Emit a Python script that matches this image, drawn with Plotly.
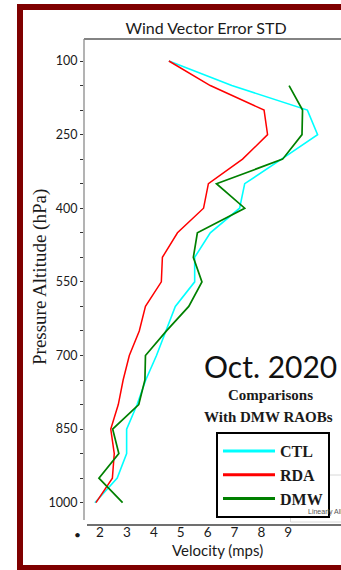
import plotly.graph_objects as go

# Pressure levels (hPa) and wind vector error standard deviations (m/s)
levels = [100, 150, 200, 250, 300, 350, 400, 450, 500, 550,
          600, 650, 700, 750, 800, 850, 900, 950, 1000]
ctl = [4.56, 6.9, 9.71, 10.09, 8.75, 7.38, 7.19, 6.1, 5.52, 5.52,
       4.8, 4.45, 4.1, 3.7, 3.38, 2.99, 2.99, 2.64, 1.81]
rda = [4.56, 6.1, 8.1, 8.23, 7.3, 6.03, 5.85, 4.88, 4.32, 4.28,
       3.69, 3.46, 3.09, 2.86, 2.68, 2.4, 2.53, 2.46, 1.85]
dmw = [None, 9.03, 9.53, 9.51, 8.79, 6.33, 7.38, 5.62, 5.47, 5.79,
       5.3, 4.47, 3.69, 3.67, 3.44, 2.47, 2.7, 1.96, 2.84]

x_ticks = [2, 3, 4, 5, 6, 7, 8, 9]
y_ticks = [100, 250, 400, 550, 700, 850, 1000]

series = [
    ("CTL", ctl, "#00FFFF", 1.6),
    ("RDA", rda, "#FF0000", 1.5),
    ("DMW", dmw, "#008000", 1.7),
]

W, H = 341, 570
L, R, T, B = 84, 0, 39, 49
PW, PH = W - L - R, H - T - B


def px(xp):
    return (xp - L) / PW


def py(yp):
    return (H - B - yp) / PH


fig = go.Figure()
for name, vals, color, width in series:
    fig.add_trace(go.Scatter(
        x=vals, y=levels, mode="lines", name=name,
        line=dict(color=color, width=width),
        showlegend=False, connectgaps=False,
    ))
# legend entries with heavier sample lines
for name, vals, color, width in series:
    fig.add_trace(go.Scatter(
        x=[None], y=[None], mode="lines", name=name,
        line=dict(color=color, width=3), showlegend=True,
    ))

maroon = "#7F0000"
axis_gray = "#5A5A5A"
shapes = [
    # outer frame
    dict(type="rect", xref="paper", yref="paper",
         x0=px(17), x1=px(23), y0=py(570), y1=py(4),
         fillcolor=maroon, line=dict(width=0), layer="above"),
    dict(type="rect", xref="paper", yref="paper",
         x0=px(17), x1=px(345), y0=py(10), y1=py(4),
         fillcolor=maroon, line=dict(width=0), layer="above"),
    dict(type="rect", xref="paper", yref="paper",
         x0=px(17), x1=px(345), y0=py(571), y1=py(565),
         fillcolor=maroon, line=dict(width=0), layer="above"),
    # plot frame lines
    dict(type="line", xref="paper", yref="paper",
         x0=0, x1=1.01, y0=py(39), y1=py(39),
         line=dict(color=axis_gray, width=1.5)),
    dict(type="line", xref="paper", yref="paper",
         x0=0, x1=0, y0=py(39), y1=py(520),
         line=dict(color="#8A8A8A", width=1.3)),
    dict(type="line", xref="paper", yref="paper",
         x0=px(87), x1=1.01, y0=py(525), y1=py(525),
         line=dict(color="#404040", width=1.6)),
    # faint box behind the legend
    dict(type="rect", xref="paper", yref="paper",
         x0=px(290.5), x1=px(345), y0=py(522), y1=py(475),
         fillcolor="white", line=dict(color="#D8D8D8", width=1), layer="below"),
    dict(type="line", xref="paper", yref="paper",
         x0=px(293), x1=px(304), y0=py(512), y1=py(512),
         line=dict(color="#F4B0B0", width=1)),
]

annotations = [
    dict(text="Pressure Altitude (hPa)", xref="paper", yref="paper",
         x=px(40), y=py(277), textangle=-90, showarrow=False,
         xanchor="center", yanchor="middle",
         font=dict(family="Liberation Serif", size=19, color="#1a1a1a")),
    dict(text="Velocity (mps)", xref="paper", yref="paper",
         x=px(217), y=py(550), showarrow=False,
         xanchor="center", yanchor="middle",
         font=dict(family="Lato", size=15, color="#1a1a1a")),
    dict(text="\u2022", xref="paper", yref="paper",
         x=px(77), y=py(534), showarrow=False,
         xanchor="center", yanchor="middle",
         font=dict(family="Lato", size=12, color="#1a1a1a")),
    dict(text="Oct. 2020", xref="paper", yref="paper",
         x=px(270), y=py(366), showarrow=False,
         xanchor="center", yanchor="middle",
         font=dict(family="Lato", size=30, color="#111111")),
    dict(text="<b>Comparisons</b>", xref="paper", yref="paper",
         x=px(270), y=py(395), showarrow=False,
         xanchor="center", yanchor="middle",
         font=dict(family="Liberation Serif", size=15, color="#1a1a1a")),
    dict(text="<b>With DMW RAOBs</b>", xref="paper", yref="paper",
         x=px(268), y=py(417), showarrow=False,
         xanchor="center", yanchor="middle",
         font=dict(family="Liberation Serif", size=15, color="#1a1a1a")),
    dict(text="Linearly All", xref="paper", yref="paper",
         x=px(306), y=py(512), showarrow=False,
         xanchor="left", yanchor="middle",
         font=dict(family="Liberation Sans Narrow, Liberation Sans", size=7, color="#555555")),
]

# y scale: 100 hPa at 61 px, 1000 hPa at 502.7 px
y_top = 100 + (39 - 61) * 900 / 441.7
y_bot = 100 + (H - B - 61) * 900 / 441.7

fig.update_layout(
    width=W, height=H,
    margin=dict(l=L, r=R, t=T, b=B, pad=0),
    paper_bgcolor="white", plot_bgcolor="white",
    title=dict(text="Wind Vector Error STD", x=px(206), xref="paper",
               xanchor="center", y=1 - 28 / H, yanchor="middle",
               font=dict(family="Lato", size=16, color="#1a1a1a")),
    xaxis=dict(range=[1.405, 10.96], tickvals=x_ticks,
               ticktext=[str(v) for v in x_ticks],
               showgrid=False, zeroline=False, showline=False, ticks="",
               ticklabelstandoff=1,
               tickfont=dict(family="Lato", size=13.5, color="#1a1a1a")),
    yaxis=dict(range=[y_bot, y_top], tickvals=y_ticks,
               ticktext=[str(v) for v in y_ticks],
               showgrid=False, zeroline=False, showline=False,
               ticks="outside", ticklen=3, tickwidth=1.2, tickcolor="#333333",
               minor=dict(dtick=50, tick0=0, ticks="outside", ticklen=3,
                          tickwidth=1.2, tickcolor="#333333"),
               tickfont=dict(family="Lato", size=12.5, color="#1a1a1a")),
    legend=dict(x=px(216), y=py(432), xanchor="left", yanchor="top",
                bgcolor="white", bordercolor="black", borderwidth=2,
                itemwidth=52, tracegroupgap=0,
                font=dict(family="Liberation Serif", size=16, color="#1a1a1a",
                          weight="bold")),
    shapes=shapes,
    annotations=annotations,
)

fig.write_html("out.html")
